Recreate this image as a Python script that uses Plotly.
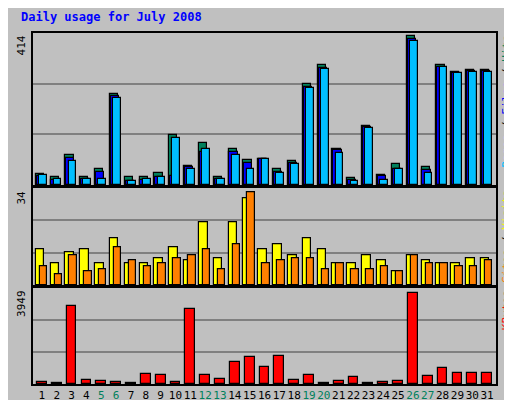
import plotly.graph_objects as go
from plotly.subplots import make_subplots

days = list(range(1, 32))
weekend = [5, 6, 12, 13, 19, 20, 26, 27]

hits = [30, 23, 82, 23, 43, 250, 21, 23, 32, 137, 52, 115, 23, 99, 68, 71,
        43, 65, 277, 328, 99, 19, 162, 27, 57, 408, 48, 330, 311, 316, 316]
files = [25, 15, 75, 17, 35, 245, 12, 15, 23, 25, 48, 90, 17, 90, 60, 70,
         37, 60, 270, 322, 95, 15, 160, 25, 45, 400, 40, 325, 308, 313, 313]
pages = [27, 17, 65, 17, 17, 240, 12, 17, 23, 130, 45, 98, 17, 82, 43, 70,
         34, 58, 265, 318, 87, 12, 155, 15, 45, 395, 32, 323, 307, 310, 310]
visits = [13, 8, 12, 13, 8, 17, 8, 8, 10, 14, 9, 23, 10, 23, 32, 13,
          15, 11, 17, 13, 8, 8, 11, 9, 5, 11, 9, 8, 8, 10, 10]
sites = [7, 4, 11, 5, 6, 14, 9, 7, 8, 10, 11, 13, 6, 15, 34, 8,
         9, 10, 10, 6, 8, 6, 6, 7, 5, 11, 8, 8, 7, 7, 9]
kbytes = [104, 60, 3387, 190, 147, 104, 60, 449, 406, 104, 3257, 406, 233, 967, 1183, 752,
          1227, 190, 406, 60, 147, 320, 60, 104, 147, 3949, 363, 708, 493, 493, 493]

BG = "#C0C0C0"
FONT = "DejaVu Sans Mono"

fig = make_subplots(rows=3, cols=1, shared_xaxes=True, vertical_spacing=0.0)

def bars(y, color, offset, width, row):
    fig.add_trace(go.Bar(x=days, y=y, marker_color=color, offset=offset, width=width,
                         marker_line=dict(color="black", width=1.2)), row=row, col=1)

bars(hits, "#00805C", -0.42, 0.55, 1)
bars(files, "#0000FF", -0.36, 0.55, 1)
bars(pages, "#00BFFF", -0.2, 0.52, 1)
bars(visits, "#FFFF00", -0.42, 0.58, 2)
bars(sites, "#FF8000", -0.15, 0.5, 2)
bars(kbytes, "#FF0000", -0.33, 0.66, 3)

tops = [417, 35.5, 4148]
for i, top in enumerate(tops, start=1):
    fig.update_yaxes(range=[0, top], tickvals=[top / 3, 2 * top / 3], showticklabels=False,
                     showgrid=True, gridcolor="#808080", gridwidth=1.5, zeroline=False,
                     showline=True, linecolor="black", linewidth=2, mirror=True, row=i, col=1)
    fig.update_xaxes(range=[0.4, 31.6], showgrid=False, showline=True, linecolor="black",
                     linewidth=2, mirror=True, ticks="", row=i, col=1)

ticktext = [f"<span style='color:#00805C'>{d}</span>" if d in weekend else str(d) for d in days]
fig.update_xaxes(tickvals=days, ticktext=ticktext, tickangle=0,
                 tickfont=dict(family=FONT, size=11, color="black"), row=3, col=1)

fig.update_layout(
    width=512, height=400, barmode="overlay", showlegend=False,
    paper_bgcolor=BG, plot_bgcolor=BG, bargap=0,
    margin=dict(l=25, r=24, t=25, b=24, autoexpand=False),
    font=dict(family=FONT, size=11, color="black"),
)
fig.update_layout(yaxis=dict(domain=[0.567, 1.0]), yaxis2=dict(domain=[0.282, 0.558]),
                  yaxis3=dict(domain=[0.0, 0.2735]))

fig.add_annotation(text="<b>Daily usage for July 2008</b>", xref="paper", yref="paper",
                   x=-0.03, y=1.07, xanchor="left", yanchor="top", showarrow=False,
                   font=dict(family=FONT, size=12, color="#0000FF"))

# max value labels on the left
for label, ytop in [("414", 1.0), ("34", 0.558), ("3949", 0.2735)]:
    fig.add_annotation(text=label, xref="paper", yref="paper", x=-0.025, y=ytop,
                       xanchor="center", yanchor="top", textangle=-90, showarrow=False,
                       font=dict(family=FONT, size=11, color="black"))

# legends on the right
legends = [
    ("<span style='color:#00BFFF'>Pages</span> / <span style='color:#0000FF'>Files</span> / "
     "<span style='color:#00805C'>Hits</span>", 1.0),
    ("<span style='color:#FF8000'>Sites</span> / <span style='color:#FFFF00'>Visits</span>", 0.558),
    ("<span style='color:#FF0000'>KBytes</span>", 0.2735),
]
for text, ytop in legends:
    fig.add_annotation(text=text, xref="paper", yref="paper", x=1.022, y=ytop,
                       xanchor="center", yanchor="top", textangle=-90, showarrow=False,
                       font=dict(family=FONT, size=11, color="black"))

# outer 3D frame
fig.add_shape(type="line", xref="paper", yref="paper", x0=1.043, x1=1.043, y0=-0.065, y1=1.07,
              line=dict(color="#808080", width=5))
fig.add_shape(type="line", xref="paper", yref="paper", x0=-0.05, x1=1.043, y0=-0.062, y1=-0.062,
              line=dict(color="#808080", width=5))

fig.write_html("out.html")
